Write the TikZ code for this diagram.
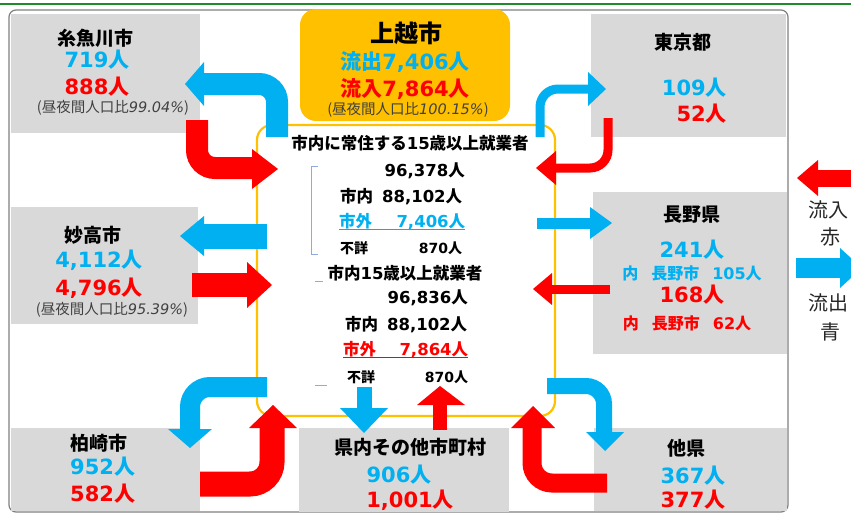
\documentclass[tikz,border=0pt]{standalone}
\usepackage{fontspec}
\setmainfont{Noto Sans CJK JP}
\newfontfamily\dv{DejaVu Sans}
\definecolor{cblue}{HTML}{00B0F0}
\definecolor{cred}{HTML}{FF0000}
\definecolor{cgrey}{HTML}{D9D9D9}
\definecolor{corange}{HTML}{FFC000}
\definecolor{cborder}{HTML}{808080}
\definecolor{cdark}{HTML}{404040}
\definecolor{cgreen}{HTML}{1E8C28}
\definecolor{cbracket}{HTML}{8FAADC}
\newcommand{\nm}[1]{{\dv #1}}
\tikzset{
  gbox/.style={fill=cgrey, draw=none},
  nameT/.style={inner sep=0pt, font=\fontsize{19}{21}\selectfont\bfseries},
  bigB/.style={inner sep=0pt, text=cblue, font=\fontsize{21}{24}\selectfont\bfseries},
  bigR/.style={inner sep=0pt, text=cred, font=\fontsize{21}{24}\selectfont\bfseries},
  ratioT/.style={inner sep=0pt, text=cdark, font=\fontsize{14.5}{16}\selectfont},
  midT/.style={inner sep=0pt, font=\fontsize{16.5}{19}\selectfont\bfseries},
  smallT/.style={inner sep=0pt, font=\fontsize{14}{16}\selectfont\bfseries},
  subT/.style={inner sep=0pt, font=\fontsize{16}{18}\selectfont\bfseries},
  legT/.style={inner sep=0pt, text=black!85, font=\fontsize{20}{22}\selectfont},
  shaftB/.style={draw=cblue, line width=#1},
  shaftR/.style={draw=cred, line width=#1},
}
\begin{document}
\begin{tikzpicture}[x=1pt,y=-1pt]
\useasboundingbox (0,0) rectangle (851,514);
\begin{scope}
\clip (0,0) rectangle (851,514);
% top green line
\draw[cgreen, line width=1.8] (0,4) -- (851,4);
% outer frame
\draw[cborder, line width=1.2, rounded corners=7] (9,10) rectangle (788,512);
% grey boxes
\fill[gbox] (11,14) rectangle (200,133);
\fill[gbox] (11,207) rectangle (198,324);
\fill[gbox] (11,428) rectangle (200,511);
\fill[gbox] (299,428) rectangle (509,512);
\fill[gbox] (594,428) rectangle (787,511);
\fill[gbox] (591,14) rectangle (786,137);
\fill[gbox] (593,192) rectangle (787,354);
% orange box
\fill[corange, rounded corners=16] (300,9) rectangle (510,121);
% yellow frame
\draw[corange, line width=2.2, rounded corners=15] (257,125) rectangle (555,416);
% brackets
\draw[cbracket, line width=0.9] (318,166) -- (311,166) -- (311,254) -- (318,254);
\draw[cbracket, line width=0.9] (315,281) -- (323,281);
\draw[cbracket, line width=0.9] (315,385) -- (327,385);

% ---- arrows ----
% Itoigawa
\draw[shaftB=22, rounded corners=18] (277,137) -- (277,84) -- (204,84);
\fill[cblue] (204,62) -- (185,84) -- (204,106) -- cycle;
\draw[shaftR=22, rounded corners=18] (197,120) -- (197,168) -- (253,168);
\fill[cred] (252,149) -- (278,169) -- (252,189) -- cycle;
% Tokyo
\draw[shaftB=9, rounded corners=18] (540,137) -- (540,89) -- (589,89);
\fill[cblue] (588,72) -- (606,89) -- (588,106) -- cycle;
\draw[shaftR=9, rounded corners=18] (608,118) -- (608,168) -- (555,168);
\fill[cred] (556,151) -- (536,168) -- (556,185) -- cycle;
% Myoko
\draw[shaftB=25] (267,236) -- (203,236);
\fill[cblue] (204,216) -- (180,236) -- (204,256) -- cycle;
\draw[shaftR=24] (192,285) -- (248,285);
\fill[cred] (247,262) -- (272,285) -- (247,308) -- cycle;
% Nagano
\draw[shaftB=11] (537,223) -- (591,223);
\fill[cblue] (590,207) -- (612,223) -- (590,239) -- cycle;
\draw[shaftR=9] (610,289) -- (551,289);
\fill[cred] (552,273) -- (533,289) -- (552,305) -- cycle;
% Kashiwazaki
\draw[shaftB=20, rounded corners=20] (267,387) -- (190,387) -- (190,430);
\fill[cblue] (168,429) -- (190,448) -- (212,429) -- cycle;
\draw[shaftR=25, rounded corners=22] (200,484) -- (272,484) -- (272,427);
\fill[cred] (249,428) -- (273,405) -- (297,428) -- cycle;
% other municipalities in prefecture
\draw[shaftB=15] (364,387) -- (364,409);
\fill[cblue] (340,408) -- (364,433) -- (388,408) -- cycle;
\draw[shaftR=14] (440,430) -- (440,404);
\fill[cred] (417,405) -- (440,386) -- (465,405) -- cycle;
% other prefectures
\draw[shaftB=16, rounded corners=18] (547,386) -- (604,386) -- (604,433);
\fill[cblue] (586,432) -- (605,451) -- (624,432) -- cycle;
\draw[shaftR=19, rounded corners=20] (607,483) -- (532,483) -- (532,427);
\fill[cred] (511,428) -- (533,406) -- (555,428) -- cycle;
% legend arrows
\fill[cred] (818,160) -- (797,178) -- (818,196) -- cycle;
\draw[shaftR=17] (817,178) -- (860,178);
\draw[shaftB=20] (796,268) -- (841,268);
\fill[cblue] (840,248) -- (862,268) -- (840,288) -- cycle;

% ---- texts ----
% Itoigawa
\node[nameT] (ito) at (95,38) {糸魚川市};
\node[bigB] (itoB) at (97,60) {\nm{719}人};
\node[bigR] (itoR) at (97,87) {\nm{888}人};
\node[ratioT] (itoP) at (113,108) {(昼夜間人口比{\dv\itshape 99.04\%})};
% Joetsu
\node[inner sep=0pt, font=\fontsize{24}{26}\selectfont\bfseries] (joe) at (406,33) {上越市};
\node[bigB] (joeB) at (405,62) {流出\nm{7,406}人};
\node[bigR] (joeR) at (405,89) {流入\nm{7,864}人};
\node[ratioT] (joeP) at (408,110) {(昼夜間人口比{\dv\itshape 100.15\%})};
% center
\node[midT] (c1) at (410,143) {市内に常住する\nm{15}歳以上就業者};
\node[midT, anchor=east] (c2) at (465,171) {\nm{96,378}人};
\node[midT, anchor=west, text width=122pt] (c3) at (340,197) {市内\hfill\nm{88,102}人};
\node[midT, anchor=west, text width=126pt, text=cblue] (c4) at (339,222) {市外\hfill\nm{7,406}人};
\draw[cblue, line width=0.9] (339,229.5) -- (465,229.5);
\node[smallT, anchor=west, text width=122pt] (c5) at (340,248) {不詳\hfill\nm{870}人};
\node[midT] (c6) at (405,273) {市内\nm{15}歳以上就業者};
\node[midT, anchor=east] (c7) at (468,298) {\nm{96,836}人};
\node[midT, anchor=west, text width=122pt] (c8) at (345,325) {市内\hfill\nm{88,102}人};
\node[midT, anchor=west, text width=125pt, text=cred] (c9) at (343,350) {市外\hfill\nm{7,864}人};
\draw[cred, line width=0.9] (343,357.5) -- (468,357.5);
\node[smallT, anchor=west, text width=121pt] (c10) at (347,377) {不詳\hfill\nm{870}人};
% Tokyo
\node[nameT] (tok) at (683,42) {東京都};
\node[bigB, anchor=east] (tokB) at (727,88) {\nm{109}人};
\node[bigR, anchor=east] (tokR) at (727,114) {\nm{52}人};
% Nagano
\node[nameT] (nag) at (692,215) {長野県};
\node[bigB] (nagB) at (692,250) {\nm{241}人};
\node[subT, text=cblue] (nagB2) at (692,273) {内\hspace{13pt}長野市\hspace{13pt}\nm{105}人};
\node[bigR] (nagR) at (692,295) {\nm{168}人};
\node[subT, text=cred] (nagR2) at (687,323) {内\hspace{13pt}長野市\hspace{13pt}\nm{62}人};
% Myoko
\node[nameT] (myo) at (93,235) {妙高市};
\node[bigB] (myoB) at (99,260) {\nm{4,112}人};
\node[bigR] (myoR) at (99,288) {\nm{4,796}人};
\node[ratioT] (myoP) at (112,310) {(昼夜間人口比{\dv\itshape 95.39\%})};
% Kashiwazaki
\node[nameT, anchor=west] (kas) at (70,443) {柏崎市};
\node[bigB, anchor=west] (kasB) at (70,467) {\nm{952}人};
\node[bigR, anchor=west] (kasR) at (70,494) {\nm{582}人};
% other municipalities
\node[nameT] (ken) at (410,447) {県内その他市町村};
\node[bigB] (kenB) at (399,475) {\nm{906}人};
\node[bigR] (kenR) at (410,500) {\nm{1,001}人};
% other prefectures
\node[nameT] (tak) at (686,448) {他県};
\node[bigB] (takB) at (693,476) {\nm{367}人};
\node[bigR] (takR) at (693,500) {\nm{377}人};
% legend
\node[legT, anchor=west] (l1) at (808,210) {流入};
\node[legT] (l2) at (830,237) {赤};
\node[legT, anchor=west] (l3) at (808,303) {流出};
\node[legT] (l4) at (830,332) {青};
\end{scope}
\end{tikzpicture}
\end{document}
